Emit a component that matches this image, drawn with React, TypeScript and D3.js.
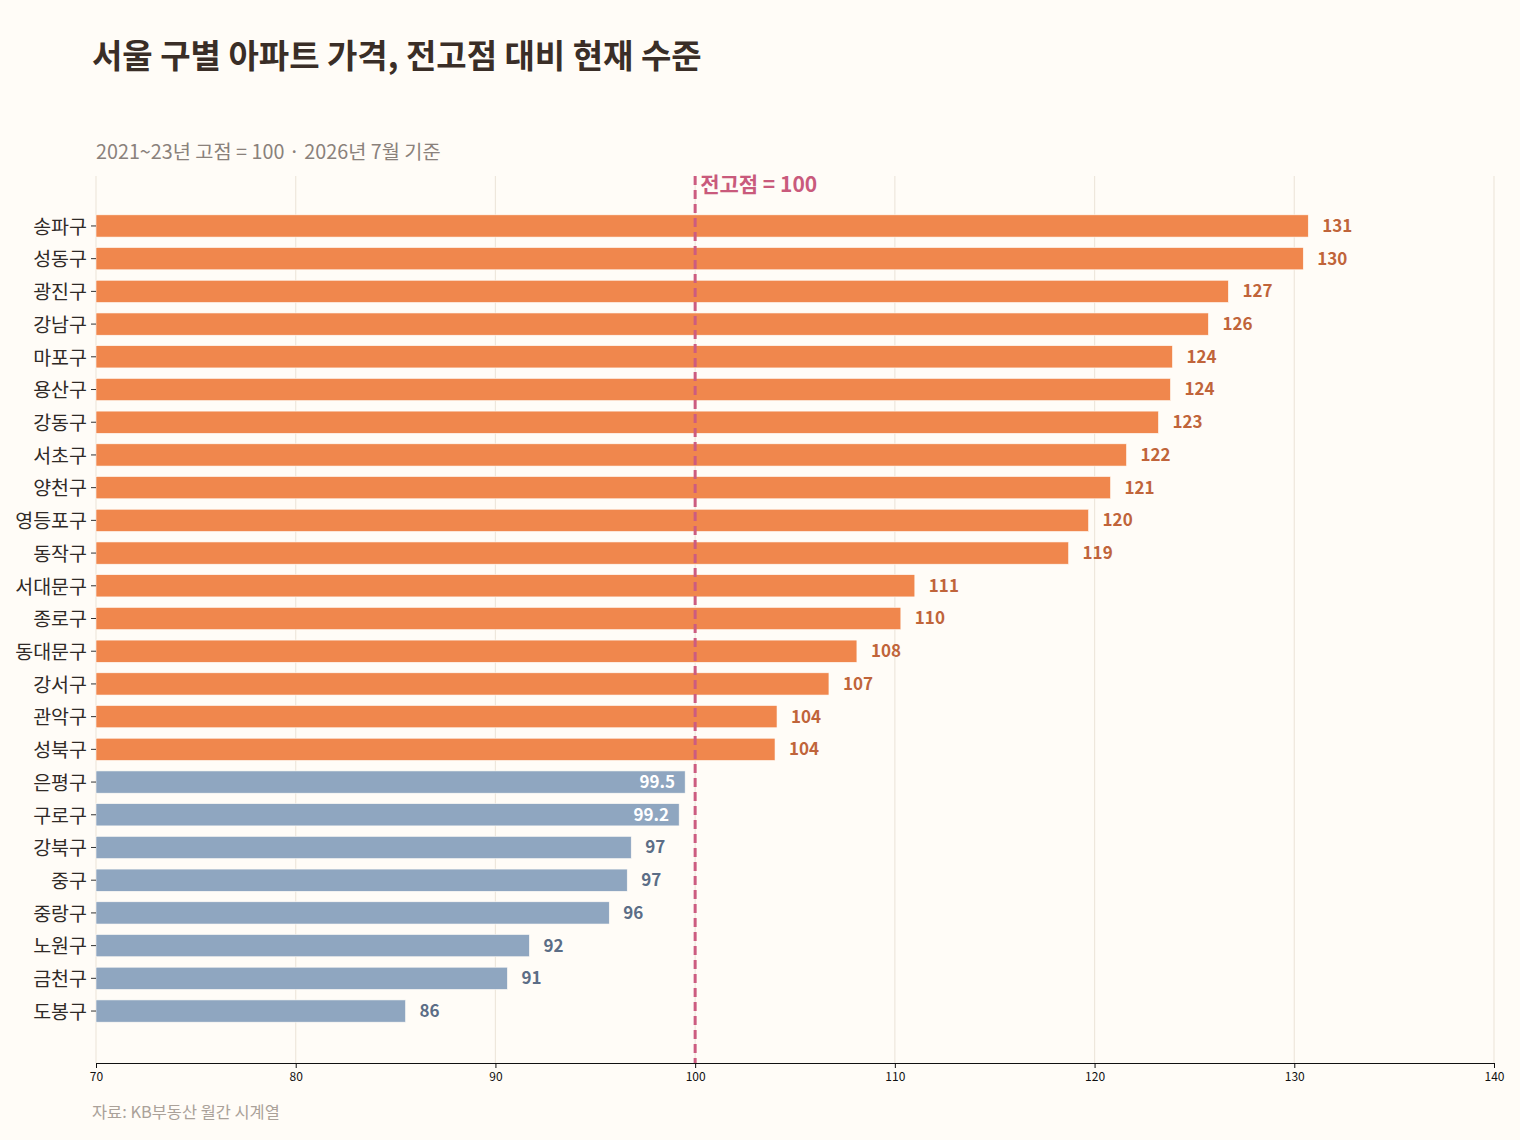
import React, { useRef, useEffect } from "react";
import * as d3 from "d3";

// 구별 이름과 전고점 대비 지수 (2021~23년 고점 = 100)
const districts = [
  "송파구", "성동구", "광진구", "강남구", "마포구", "용산구", "강동구",
  "서초구", "양천구", "영등포구", "동작구", "서대문구", "종로구", "동대문구",
  "강서구", "관악구", "성북구", "은평구", "구로구", "강북구", "중구",
  "중랑구", "노원구", "금천구", "도봉구",
];
const values = [
  130.7, 130.45, 126.7, 125.7, 123.9, 123.8, 123.2,
  121.6, 120.8, 119.7, 118.7, 111.0, 110.3, 108.1,
  106.7, 104.1, 104.0, 99.5, 99.2, 96.8, 96.6,
  95.7, 91.7, 90.6, 85.5,
];
const xTicks = [70, 80, 90, 100, 110, 120, 130, 140];

const W = 1504;
const H = 1124;
const BG = "#fffcf7";
const FONT = "'Noto Sans CJK KR', 'Noto Sans', sans-serif";

const App: React.FC = () => {
  const ref = useRef<SVGSVGElement | null>(null);

  useEffect(() => {
    document.body.style.background = BG;

    const svg = d3.select(ref.current);
    svg.selectAll("*").remove();

    const left = 88;
    const right = 1486;
    const top = 168;
    const bottom = 1055;

    svg.append("rect").attr("width", W).attr("height", H).attr("fill", BG);

    const x = d3.scaleLinear().domain([70, 140]).range([left, right]);
    const y = d3
      .scaleBand<string>()
      .domain(districts)
      .range([201.6, 1019.4])
      .paddingInner(0.32)
      .paddingOuter(0.16);

    // 그리드
    svg
      .append("g")
      .selectAll("line")
      .data(xTicks)
      .join("line")
      .attr("x1", (d) => x(d))
      .attr("x2", (d) => x(d))
      .attr("y1", top)
      .attr("y2", bottom)
      .attr("stroke", "#eee7dc")
      .attr("stroke-width", 1.2);

    const rows = districts.map((name, i) => ({ name, v: values[i] }));
    const inside = (v: number) => v > 99 && v < 100;

    svg
      .append("g")
      .selectAll("rect")
      .data(rows)
      .join("rect")
      .attr("x", x(70))
      .attr("y", (d) => y(d.name)!)
      .attr("width", (d) => x(d.v) - x(70))
      .attr("height", y.bandwidth())
      .attr("fill", (d) => (d.v >= 100 ? "#f0874d" : "#8fa6c0"))
      .attr("stroke", BG)
      .attr("stroke-width", 0.6);

    // 값 라벨
    svg
      .append("g")
      .selectAll("text")
      .data(rows)
      .join("text")
      .attr("x", (d) => (inside(d.v) ? x(d.v) - 10 : x(d.v) + 14))
      .attr("y", (d) => y(d.name)! + y.bandwidth() / 2)
      .attr("dy", "0.35em")
      .attr("text-anchor", (d) => (inside(d.v) ? "end" : "start"))
      .attr("font-family", FONT)
      .attr("font-weight", 700)
      .attr("font-size", 17)
      .attr("fill", (d) =>
        inside(d.v) ? "#ffffff" : d.v >= 100 ? "#c0643a" : "#5b6d86"
      )
      .text((d) => (inside(d.v) ? d.v.toFixed(1) : String(Math.round(d.v))));

    // 전고점 기준선
    svg
      .append("line")
      .attr("x1", x(100))
      .attr("x2", x(100))
      .attr("y1", top)
      .attr("y2", bottom)
      .attr("stroke", "#cc5c80")
      .attr("stroke-width", 3)
      .attr("stroke-dasharray", "9,5");

    svg
      .append("text")
      .attr("x", x(100) + 5)
      .attr("y", 184)
      .attr("font-family", FONT)
      .attr("font-weight", 700)
      .attr("font-size", 21)
      .attr("fill", "#c95a7c")
      .text("전고점 = 100");

    // y축
    const yAxis = svg
      .append("g")
      .attr("transform", `translate(${left},0)`)
      .call(d3.axisLeft(y).tickSize(5).tickPadding(4));
    yAxis.select(".domain").remove();
    yAxis.selectAll("line").attr("stroke", "#333");
    yAxis
      .selectAll("text")
      .attr("font-family", FONT)
      .attr("font-size", 19.5)
      .attr("dy", "0.4em")
      .attr("fill", "#2f2a27");

    // x축
    const xAxis = svg
      .append("g")
      .attr("transform", `translate(0,${bottom})`)
      .call(d3.axisBottom(x).tickValues(xTicks).tickSize(5).tickPadding(4).tickSizeOuter(0));
    xAxis.select(".domain").attr("stroke", "#111").attr("stroke-width", 1.2);
    xAxis.selectAll("line").attr("stroke", "#111");
    xAxis
      .selectAll("text")
      .attr("font-family", FONT)
      .attr("font-size", 12)
      .attr("fill", "#111");

    svg
      .append("text")
      .attr("x", 84)
      .attr("y", 60)
      .attr("font-family", FONT)
      .attr("font-weight", 700)
      .attr("font-size", 33)
      .attr("fill", "#3a2e27")
      .text("서울 구별 아파트 가격, 전고점 대비 현재 수준");

    svg
      .append("text")
      .attr("x", 88)
      .attr("y", 151)
      .attr("font-family", FONT)
      .attr("font-size", 19.75)
      .attr("fill", "#8a817b")
      .text("2021~23년 고점 = 100 · 2026년 7월 기준");

    svg
      .append("text")
      .attr("x", 84)
      .attr("y", 1110)
      .attr("font-family", FONT)
      .attr("font-size", 16.4)
      .attr("fill", "#aaa199")
      .text("자료: KB부동산 월간 시계열");
  }, []);

  return <svg ref={ref} width={W} height={H} style={{ display: "block" }}></svg>;
};

export default App;
